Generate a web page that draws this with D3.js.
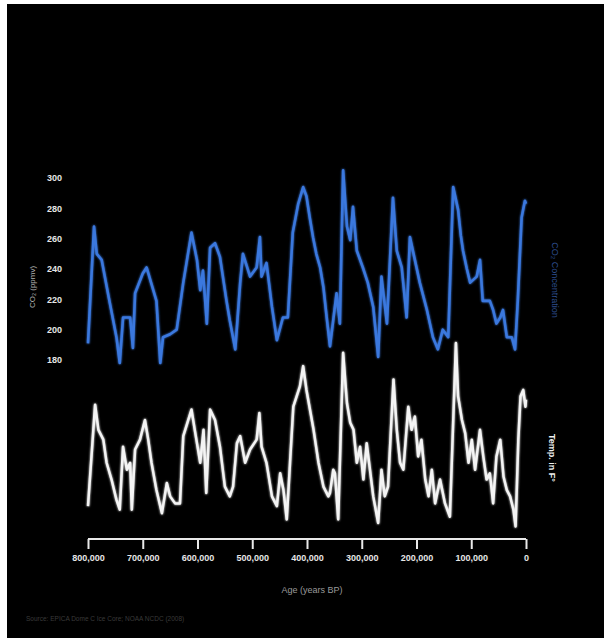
<!DOCTYPE html>
<html><head><meta charset="utf-8">
<script src="https://cdn.jsdelivr.net/npm/d3@7"></script>
<style>html,body{margin:0;padding:0;background:#fff;}svg{display:block;}</style>
</head><body>
<script>
// Age in thousands of years BP, CO2 in ppmv
const co2Age = [800,789,784,775,762,748,742,736,723,718,714,700,693,684,675,668,663,650,638,626,611,601,595,590,583,577,568,559,547,541,531,522,517,504,492,486,483,474,464,455,444,435,426,416,407,401,395,389,383,376,370,364,358,346,340,334,327,321,316,309,298,289,279,270,264,254,243,236,227,218,212,203,194,181,170,161,152,142,133,124,119,115,108,102,90,84,79,66,60,54,47,42,35,26,20,15,8,2,0];
const co2Val = [191,268,250,246,221,195,178,208,208,188,224,237,241,230,219,178,195,197,200,231,264,246,226,239,204,254,257,248,219,206,187,231,250,235,241,261,235,244,215,193,208,208,264,283,294,288,274,261,250,241,228,208,189,224,204,305,268,259,281,252,241,231,215,182,235,204,287,252,241,208,261,246,231,213,195,187,200,195,294,279,262,252,240,231,235,246,219,219,213,204,208,213,195,195,187,219,274,285,283];
// Temperature anomaly (°F)
const tempAge = [800,787,781,772,766,757,748,742,736,729,723,720,714,705,696,690,684,675,665,656,650,641,632,626,611,605,595,589,584,577,568,559,550,541,535,528,522,513,504,492,487,483,474,464,455,449,443,437,431,425,413,407,401,388,379,370,361,358,352,349,343,334,327,321,315,309,303,297,291,285,279,270,264,258,252,242,236,230,224,215,209,203,197,191,184,178,172,166,157,148,139,128,124,117,111,105,99,93,84,78,72,66,60,54,47,41,35,29,23,19,14,10,5,1,0];
const tempVal = [-15.2,-0.7,-4.3,-5.7,-9,-11.4,-14.3,-15.7,-6.7,-10,-9,-15.7,-7.1,-5.7,-2.9,-5.7,-9,-12.9,-16.2,-11.9,-13.8,-14.8,-14.8,-5.2,-1.4,-4.3,-9,-4.3,-13.3,-1.4,-2.9,-6.7,-12.4,-13.8,-12.4,-6.2,-5.2,-9,-7.1,-5.7,-1.9,-6.7,-9,-13.8,-15.2,-10.5,-12.9,-17.1,-9,-1,1.9,4.8,1.4,-4.3,-9,-12.4,-13.8,-13.3,-10,-10.5,-17.1,6.7,-0.5,-3.3,-4.3,-9,-6.7,-11.4,-6.2,-10,-13.8,-17.6,-10,-13.8,-12.4,2.9,-4.3,-9,-10,-1,-4.3,-2.4,-8.1,-5.7,-11.4,-13.8,-10,-14.8,-11.4,-14.8,-16.7,8.1,0.5,-2.9,-4.8,-9,-5.7,-10,-4.3,-8.1,-11.4,-10.5,-14.8,-8.1,-5.7,-11,-12.9,-13.8,-15.7,-18.1,-5.7,0.5,1.4,-1,0];
const ageTicks = [800,700,600,500,400,300,200,100,0];
const co2Ticks = [180,200,220,240,260,280,300];

const W = 604, H = 638;
const svg = d3.select("body").append("svg").attr("width", W).attr("height", H);
svg.append("rect").attr("width", W).attr("height", H).attr("fill", "#fff");
svg.append("rect").attr("x", 7).attr("y", 4).attr("width", W-7).attr("height", H-4).attr("fill", "#000");

const x = d3.scaleLinear().domain([800, 0]).range([88, 526]);
const yC = d3.scaleLinear().domain([180, 300]).range([360, 178]);
const yT = d3.scaleLinear().domain([-18.6, 7.1]).range([530, 350]);

const defs = svg.append("defs");
const f = defs.append("filter").attr("id","glow").attr("x","-10%").attr("y","-10%").attr("width","120%").attr("height","120%");
f.append("feGaussianBlur").attr("stdDeviation", 1.3).attr("result","b");
const m = f.append("feMerge");
m.append("feMergeNode").attr("in","b");
m.append("feMergeNode").attr("in","SourceGraphic");

const co2Data = co2Age.map((a,i)=>[a, co2Val[i]]);
svg.append("path").datum(co2Data)
  .attr("d", d3.line().x(d=>x(d[0])).y(d=>yC(d[1])))
  .attr("fill","none").attr("stroke","#3a78de").attr("stroke-width",2.6)
  .attr("stroke-linejoin","round").attr("filter","url(#glow)");

const tData = tempAge.map((a,i)=>[a, tempVal[i]]);
svg.append("path").datum(tData)
  .attr("d", d3.line().x(d=>x(d[0])).y(d=>yT(d[1])))
  .attr("fill","none").attr("stroke","#f4f4f4").attr("stroke-width",2.5)
  .attr("stroke-linejoin","round").attr("filter","url(#glow)");

const xAxis = svg.append("g").attr("transform","translate(0,539)")
  .call(d3.axisBottom(x).tickValues(ageTicks).tickSize(10).tickPadding(6)
    .tickFormat(d => d===0 ? "0" : d3.format(",")(d*1000)));
xAxis.select(".domain").attr("stroke","#e8e8e8").attr("stroke-width",2).attr("d","M88,0H526");
xAxis.selectAll(".tick line").attr("stroke","#e8e8e8").attr("stroke-width",2);
xAxis.selectAll(".tick text").attr("fill","#e6e6e6").attr("font-family","Arial, 'Liberation Sans', sans-serif")
  .attr("font-size",9).attr("font-weight","bold");

svg.append("text").attr("x",312).attr("y",593).attr("text-anchor","middle")
  .attr("fill","#9a9a9a").attr("font-family","Arial, 'Liberation Sans', sans-serif").attr("font-size",9)
  .text("Age (years BP)");

const yAxis = svg.append("g").attr("transform","translate(62,0)")
  .call(d3.axisLeft(yC).tickValues(co2Ticks).tickSize(0).tickPadding(0));
yAxis.select(".domain").remove();
yAxis.selectAll(".tick text").attr("fill","#e6e6e6").attr("font-family","Arial, 'Liberation Sans', sans-serif")
  .attr("font-size",9).attr("font-weight","bold");

svg.append("text").attr("transform","translate(35,287) rotate(-90)").attr("text-anchor","middle")
  .attr("fill","#b0b0b0").attr("font-family","Arial, 'Liberation Sans', sans-serif").attr("font-size",8)
  .text("CO\u2082 (ppmv)");

svg.append("text").attr("transform","translate(552,280) rotate(90)").attr("text-anchor","middle")
  .attr("fill","#2c4c8c").attr("font-family","Arial, 'Liberation Sans', sans-serif").attr("font-size",9)
  .text("CO\u2082 Concentration");
svg.append("text").attr("transform","translate(549,458) rotate(90)").attr("text-anchor","middle")
  .attr("fill","#eeeeee").attr("font-family","Arial, 'Liberation Sans', sans-serif").attr("font-size",9).attr("font-weight","bold")
  .text("Temp. in F\u00B0");

svg.append("text").attr("x",26).attr("y",621)
  .attr("fill","#3a3a3a").attr("font-family","Arial, 'Liberation Sans', sans-serif").attr("font-size",6.5)
  .text("Source: EPICA Dome C Ice Core; NOAA NCDC (2008)");
</script>
</body></html>
